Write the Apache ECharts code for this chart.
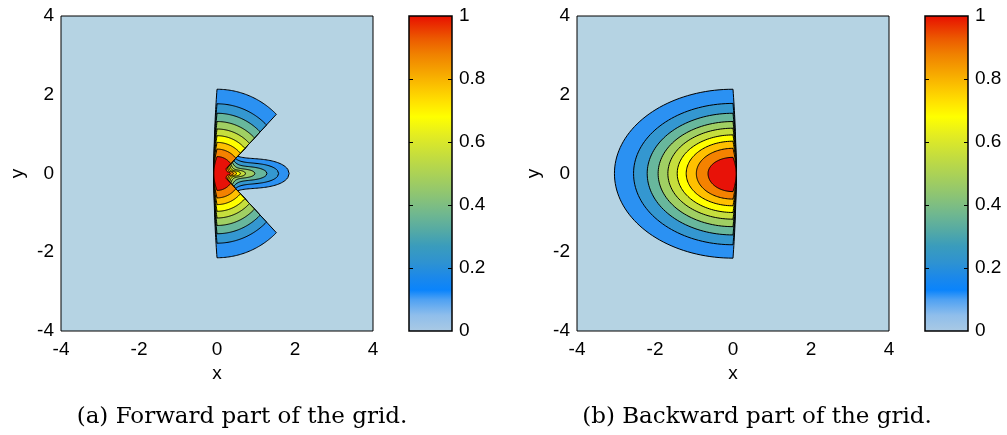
<!DOCTYPE html>
<html><head><meta charset="utf-8">
<script src="https://cdn.jsdelivr.net/npm/echarts@6/dist/echarts.min.js"></script>
<style>html,body{margin:0;padding:0;background:#fff}#c{width:1007px;height:435px}</style>
</head><body><div id="c"></div>
<script>
// ---- data ----
const levels = [0.1, 0.2, 0.3, 0.4, 0.5, 0.6, 0.7, 0.8, 0.9];
const bandColors = ['#2b91f2', '#3497d0', '#68b79c', '#a0cf63', '#c6de3d', '#ffff00', '#ffc000', '#f48200', '#e81208'];
const backgroundColor = '#b5d3e3';

// forward part: circular contour radii, wedge notch and lobe along y=0
const fwdRadius = [2.14, 1.77, 1.53, 1.32, 1.13, 0.96, 0.79, 0.62, 0.43];
const lobeTip  = [1.85, 1.58, 1.28, 0.97, 0.73, 0.60, 0.50, 0.42, 0.34];
const lobeBody = [0.38, 0.27, 0.18, 0.12, 0.09, 0.07, 0.06, 0.05, 0.04];
const lobeNeck = [0.44, 0.38, 0.33, 0.29, 0.25, 0.22, 0.19, 0.16, 0.12];
const wedgeX0 = 0.12, wedgeAngle = 47, fwdBulge = -0.08;

// backward part: half-ellipse contour extents
const bwdRx       = [3.04, 2.55, 2.20, 1.92, 1.67, 1.43, 1.20, 0.94, 0.64];
const bwdRyTop    = [2.14, 1.78, 1.53, 1.32, 1.15, 0.98, 0.82, 0.64, 0.41];
const bwdRyBottom = [2.15, 1.81, 1.56, 1.35, 1.16, 0.99, 0.82, 0.65, 0.46];
const bwdBulge = 0.08;

// colour bar
const cmapStops  = [0.00, 0.05, 0.10, 0.13, 0.17, 0.22, 0.27, 0.32, 0.37, 0.43, 0.48, 0.55, 0.62, 0.68, 0.73, 0.78, 0.83, 0.88, 0.93, 1.00];
const cmapColors = ['#a9c9e4', '#8fbeeb', '#4ea1f3', '#0a84fc', '#1b88ea', '#2f93d0', '#3a9cbc', '#55aaa4', '#6fb790', '#8cc474', '#a3ce5e', '#c2dc40', '#e3ec22', '#ffff00', '#ffe000', '#fbc000', '#f5a000', '#f08000', '#ec5800', '#e81000'];
const colorbarTicks = [0.2, 0.4, 0.6, 0.8];

const captions = ['(a) Forward part of the grid.', '(b) Backward part of the grid.'];

// ---- geometry helpers (data coordinates) ----
function forwardShape(k) {
  const r = fwdRadius[k], th = wedgeAngle * Math.PI / 180, c = Math.cos(th), s = Math.sin(th);
  const pts = [];
  const tP = -wedgeX0 * c + Math.sqrt(wedgeX0 * wedgeX0 * c * c - (wedgeX0 * wedgeX0 - r * r));
  const aP = Math.atan2(tP * s, wedgeX0 + tP * c);
  const n = 50, m = 40;
  for (let i = 0; i <= n; i++) { const a = Math.PI / 2 - (Math.PI / 2 - aP) * i / n; pts.push([r * Math.cos(a), r * Math.sin(a)]); }
  const neck = lobeNeck[k], tip = lobeTip[k], body = lobeBody[k];
  const xQ = wedgeX0 + neck / s * c;
  const hy = u => (body + (neck - body) * Math.exp(-8 * u)) * Math.sqrt(Math.max(0, 1 - Math.pow(u, 3)));
  for (let i = 0; i <= m; i++) { const u = i / m; pts.push([xQ + u * (tip - xQ), hy(u)]); }
  for (let i = m; i >= 0; i--) { const u = i / m; pts.push([xQ + u * (tip - xQ), -hy(u)]); }
  for (let i = 0; i <= n; i++) { const a = -aP - (Math.PI / 2 - aP) * i / n; pts.push([r * Math.cos(a), r * Math.sin(a)]); }
  for (let i = 1; i < n; i++) { const y = -r + 2 * r * i / n; pts.push([fwdBulge * (1 - (y / r) * (y / r)), y]); }
  return pts;
}
function backwardShape(k) {
  const pts = [], n = 80;
  for (let i = 0; i <= n; i++) {
    const p = Math.PI * i / n;
    const ry = p < Math.PI / 2 ? bwdRyTop[k] : bwdRyBottom[k];
    pts.push([-bwdRx[k] * Math.sin(p), ry * Math.cos(p)]);
  }
  for (let i = 1; i < 40; i++) {
    const y = -bwdRyBottom[k] + (bwdRyTop[k] + bwdRyBottom[k]) * i / 40;
    const ry = y > 0 ? bwdRyTop[k] : bwdRyBottom[k];
    pts.push([bwdBulge * (1 - (y / ry) * (y / ry)), y]);
  }
  return pts;
}

function contourSeries(gridIdx, shapeFn) {
  return {
    type: 'custom', xAxisIndex: gridIdx, yAxisIndex: gridIdx, silent: true, clip: true, z: 2,
    data: levels.map((v, i) => [0, 0, v]),
    renderItem: function (params, api) {
      const k = params.dataIndex;
      const pts = shapeFn(k).map(p => api.coord(p));
      return { type: 'polygon', shape: { points: pts }, style: { fill: bandColors[k], stroke: '#000', lineWidth: 1 } };
    }
  };
}
function colorbarSeries(axisIdx) {
  return {
    type: 'custom', xAxisIndex: axisIdx, yAxisIndex: axisIdx, silent: true, z: 1,
    data: [[0, 0]],
    renderItem: function (params, api) {
      const p0 = api.coord([0, 1]), p1 = api.coord([1, 0]);
      return {
        type: 'rect', shape: { x: p0[0], y: p0[1], width: p1[0] - p0[0], height: p1[1] - p0[1] },
        style: { fill: new echarts.graphic.LinearGradient(0, 1, 0, 0, cmapStops.map((o, i) => ({ offset: o, color: cmapColors[i] }))) }
      };
    }
  };
}
function colorbarTickSeries(axisIdx) {
  return {
    type: 'custom', xAxisIndex: axisIdx, yAxisIndex: axisIdx, silent: true, z: 5,
    data: colorbarTicks.map(v => [0, v]),
    renderItem: function (params, api) {
      const v = api.value(1);
      const l = api.coord([0, v]), r = api.coord([1, v]);
      const y = Math.round(l[1]) + 0.5;
      return { type: 'group', children: [
        { type: 'line', shape: { x1: l[0], y1: y, x2: l[0] + 4, y2: y }, style: { stroke: '#000', lineWidth: 1 } },
        { type: 'line', shape: { x1: r[0] - 4, y1: y, x2: r[0], y2: y }, style: { stroke: '#000', lineWidth: 1 } }
      ] };
    }
  };
}

const font = 'Liberation Sans';
const lab = { color: '#000', fontSize: 19, fontFamily: font };
function mainX(g) {
  return { gridIndex: g, type: 'value', min: -4, max: 4, interval: 2, axisLine: { show: false }, axisTick: { show: false }, splitLine: { show: false },
    axisLabel: Object.assign({ margin: 9 }, lab), name: 'x', nameLocation: 'middle', nameGap: 33, nameTextStyle: lab };
}
function mainY(g) {
  return { gridIndex: g, type: 'value', min: -4, max: 4, interval: 2, axisLine: { show: false }, axisTick: { show: false }, splitLine: { show: false },
    axisLabel: Object.assign({ margin: 7 }, lab), name: 'y', nameLocation: 'middle', nameGap: 34, nameRotate: 90, nameTextStyle: lab };
}
function cbX(g) { return { gridIndex: g, type: 'value', min: 0, max: 1, show: false }; }
function cbY(g) {
  return { gridIndex: g, type: 'value', min: 0, max: 1, interval: 0.2, position: 'right',
    axisLine: { show: false }, splitLine: { show: false }, axisTick: { show: false },
    axisLabel: Object.assign({ margin: 7 }, lab) };
}

const gridBase = { top: 16, height: 315, show: true, borderColor: '#000', borderWidth: 1, containLabel: false };
const option = {
  animation: false,
  backgroundColor: '#fff',
  grid: [
    Object.assign({}, gridBase, { left: 61, width: 312, backgroundColor: backgroundColor }),
    Object.assign({}, gridBase, { left: 577, width: 312, backgroundColor: backgroundColor }),
    Object.assign({}, gridBase, { left: 409, width: 43, show: false }),
    Object.assign({}, gridBase, { left: 925, width: 43, show: false })
  ],
  xAxis: [mainX(0), mainX(1), cbX(2), cbX(3)],
  yAxis: [mainY(0), mainY(1), cbY(2), cbY(3)],
  series: [
    contourSeries(0, forwardShape),
    contourSeries(1, backwardShape),
    colorbarSeries(2),
    colorbarSeries(3),
    colorbarTickSeries(2),
    colorbarTickSeries(3)
  ],
  graphic: [
    { type: 'rect', z: 100, shape: { x: 409, y: 16, width: 43, height: 315 }, style: { fill: 'none', stroke: '#000', lineWidth: 1.5 }, silent: true },
    { type: 'rect', z: 100, shape: { x: 925, y: 16, width: 43, height: 315 }, style: { fill: 'none', stroke: '#000', lineWidth: 1.5 }, silent: true },
    { type: 'text', x: 242, y: 417, style: { text: captions[0], font: '23px "DejaVu Serif"', fill: '#000', align: 'center', verticalAlign: 'middle', textAlign: 'center', textVerticalAlign: 'middle' } },
    { type: 'text', x: 757, y: 417, style: { text: captions[1], font: '23px "DejaVu Serif"', fill: '#000', align: 'center', verticalAlign: 'middle', textAlign: 'center', textVerticalAlign: 'middle' } }
  ]
};
const chart = echarts.init(document.getElementById('c'));
chart.setOption(option);
</script></body></html>
